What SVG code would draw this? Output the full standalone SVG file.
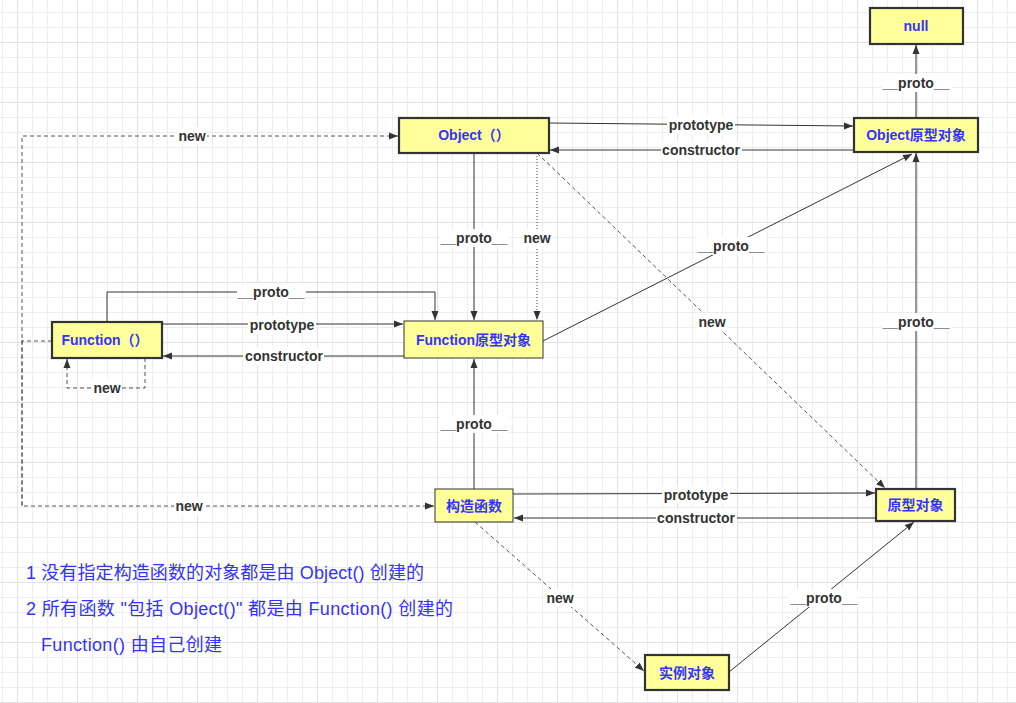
<svg xmlns="http://www.w3.org/2000/svg" width="1016" height="703" viewBox="0 0 1016 703">
<defs>
<pattern id="grid" patternUnits="userSpaceOnUse" x="17" y="42" width="60" height="60">
<path d="M15.5 0V60M30.5 0V60M45.5 0V60M0 15.5H60M0 30.5H60M0 45.5H60" stroke="#eeeeee" stroke-width="1" fill="none"/>
<path d="M0.5 0V60M0 0.5H60" stroke="#e2e2e2" stroke-width="1" fill="none"/>
</pattern>
<marker id="arr" markerWidth="10" markerHeight="8" refX="9" refY="4" orient="auto" markerUnits="userSpaceOnUse">
<path d="M0,0.5 L9,4 L0,7.5 z" fill="#333333"/>
</marker>
</defs>
<style>
.box{fill:#ffff99;stroke:#333333;}
.thick{stroke-width:2.2;}
.thin{stroke-width:1;}
.nt{font-family:"Liberation Sans","Noto Sans CJK SC",sans-serif;font-size:14px;font-weight:bold;fill:#3333ff;text-anchor:middle;}
.ln{fill:none;stroke:#333333;stroke-width:1;}
.dash{fill:none;stroke:#555555;stroke-width:1;stroke-dasharray:4 3;}
.dot{fill:none;stroke:#444444;stroke-width:1;stroke-dasharray:1 2;}
.lb{fill:#ffffff;}
.lt{font-family:"Liberation Sans","Noto Sans CJK SC",sans-serif;font-size:14px;font-weight:bold;fill:#333333;text-anchor:middle;}
.note{font-family:"Liberation Sans","Noto Sans CJK SC",sans-serif;font-size:18px;fill:#3333ff;}
</style>
<rect x="0" y="0" width="1016" height="703" fill="#ffffff"/>
<rect x="0" y="0" width="1016" height="703" fill="url(#grid)"/>

<g id="connectors">
<line class="ln" x1="916" y1="118" x2="916" y2="45" marker-end="url(#arr)"/>
<line class="ln" x1="549" y1="123" x2="853" y2="126" marker-end="url(#arr)"/>
<line class="ln" x1="854" y1="150" x2="550" y2="150" marker-end="url(#arr)"/>
<line class="ln" x1="474" y1="153" x2="474" y2="320" marker-end="url(#arr)"/>
<line class="dot" x1="537" y1="153" x2="537" y2="320" marker-end="url(#arr)"/>
<line class="dash" x1="537" y1="153" x2="885" y2="488" marker-end="url(#arr)"/>
<line class="ln" x1="543" y1="341" x2="912" y2="154" marker-end="url(#arr)"/>
<line class="ln" x1="916" y1="489" x2="916" y2="153" marker-end="url(#arr)"/>
<line class="ln" x1="513" y1="494" x2="875" y2="493" marker-end="url(#arr)"/>
<line class="ln" x1="876" y1="518" x2="514" y2="518" marker-end="url(#arr)"/>
<line class="dash" x1="475" y1="522" x2="644" y2="671" marker-end="url(#arr)"/>
<line class="ln" x1="729" y1="672" x2="914" y2="522" marker-end="url(#arr)"/>
<line class="ln" x1="474" y1="489" x2="474" y2="359" marker-end="url(#arr)"/>
<line class="ln" x1="162" y1="324" x2="403" y2="324" marker-end="url(#arr)"/>
<line class="ln" x1="404" y1="356" x2="163" y2="356" marker-end="url(#arr)"/>
<polyline class="ln" points="107,322 107,292 435,292 435,320" marker-end="url(#arr)"/>
<polyline class="dash" points="145,358 145,388 67,388 67,359" marker-end="url(#arr)"/>
<polyline class="dash" points="52,341 22,341"/>
<polyline class="dash" points="22,506 22,136 398,136" marker-end="url(#arr)"/>
<polyline class="dash" points="22,340 22,506 434,506" marker-end="url(#arr)"/>

<rect class="lb" x="882" y="74" width="70" height="18"/><text class="lt" x="916" y="88">__proto__</text>
<rect class="lb" x="667" y="116" width="68" height="18"/><text class="lt" x="701" y="130">prototype</text>
<rect class="lb" x="661" y="141" width="81" height="18"/><text class="lt" x="701" y="155">constructor</text>
<rect class="lb" x="440" y="229" width="69" height="18"/><text class="lt" x="474" y="243">__proto__</text>
<rect class="lb" x="522" y="229" width="30" height="18"/><text class="lt" x="537" y="243">new</text>
<rect class="lb" x="697" y="313" width="30" height="18"/><text class="lt" x="712" y="327">new</text>
<rect class="lb" x="697" y="237" width="69" height="18"/><text class="lt" x="731" y="251">__proto__</text>
<rect class="lb" x="882" y="313" width="69" height="18"/><text class="lt" x="916" y="327">__proto__</text>
<rect class="lb" x="662" y="486" width="68" height="18"/><text class="lt" x="696" y="500">prototype</text>
<rect class="lb" x="656" y="509" width="81" height="18"/><text class="lt" x="696" y="523">constructor</text>
<rect class="lb" x="545" y="589" width="30" height="18"/><text class="lt" x="560" y="603">new</text>
<rect class="lb" x="789" y="589" width="69" height="18"/><text class="lt" x="824" y="603">__proto__</text>
<rect class="lb" x="440" y="415" width="69" height="18"/><text class="lt" x="474" y="429">__proto__</text>
<rect class="lb" x="248" y="316" width="68" height="18"/><text class="lt" x="282" y="330">prototype</text>
<rect class="lb" x="243" y="347" width="81" height="18"/><text class="lt" x="284" y="361">constructor</text>
<rect class="lb" x="237" y="283" width="69" height="18"/><text class="lt" x="271" y="297">__proto__</text>
<rect class="lb" x="92" y="379" width="30" height="18"/><text class="lt" x="107" y="393">new</text>
<rect class="lb" x="177" y="127" width="30" height="18"/><text class="lt" x="192" y="141">new</text>
<rect class="lb" x="174" y="497" width="30" height="18"/><text class="lt" x="189" y="511">new</text>
</g>

<g id="node-null"><rect class="box thick" x="870" y="8" width="93" height="36"/><text class="nt" x="916" y="31">null</text></g>
<g id="node-object"><rect class="box thick" x="399" y="118" width="150" height="35"/><text class="nt" x="474" y="140">Object（）</text></g>
<g id="node-object-proto"><rect class="box thick" x="854" y="118" width="124" height="34"/><text class="nt" x="916" y="140">Object原型对象</text></g>
<g id="node-function"><rect class="box thick" x="52" y="322" width="110" height="36"/><text class="nt" x="105" y="345">Function（）</text></g>
<g id="node-function-proto"><rect class="box thin" x="404" y="321" width="139" height="37"/><text class="nt" x="473.5" y="345">Function原型对象</text></g>
<g id="node-ctor"><rect class="box thin" x="435" y="489" width="78" height="33"/><text class="nt" x="474" y="511">构造函数</text></g>
<g id="node-proto"><rect class="box thick" x="876" y="489" width="79" height="32"/><text class="nt" x="915.5" y="510">原型对象</text></g>
<g id="node-instance"><rect class="box thick" x="645" y="655" width="84" height="35"/><text class="nt" x="687" y="678">实例对象</text></g>

<g id="notes">
<text class="note" x="26" y="579" textLength="398" lengthAdjust="spacing">1 没有指定构造函数的对象都是由 Object() 创建的</text>
<text class="note" x="26" y="615" textLength="427" lengthAdjust="spacing">2 所有函数 "包括 Object()" 都是由 Function() 创建的</text>
<text class="note" x="41" y="651" textLength="181" lengthAdjust="spacing">Function() 由自己创建</text>
</g>
</svg>
